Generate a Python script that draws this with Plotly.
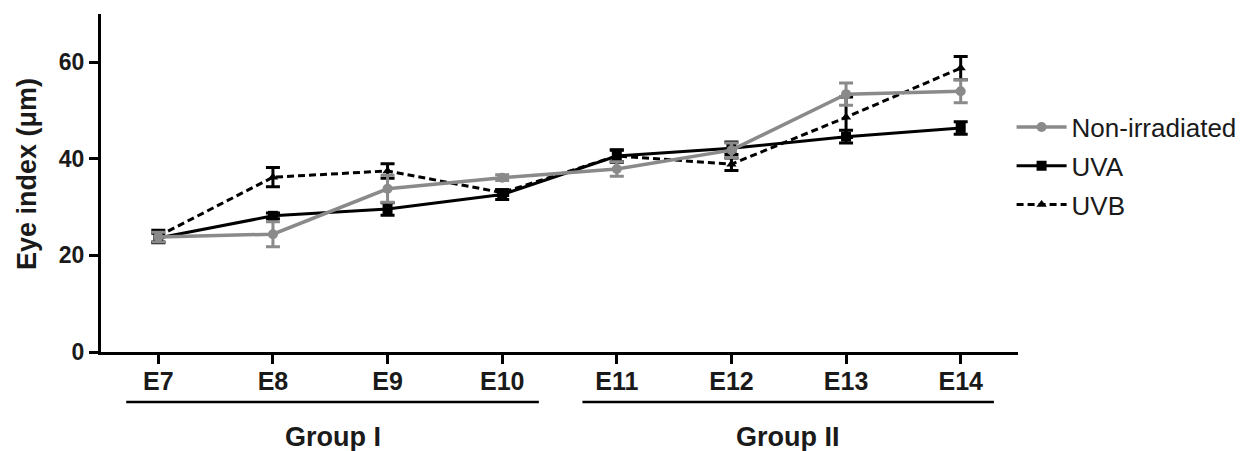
import plotly.graph_objects as go

days = ["E7", "E8", "E9", "E10", "E11", "E12", "E13", "E14"]
non_irr = [23.8, 24.4, 33.8, 36.1, 37.9, 41.8, 53.4, 54.0]
non_irr_err = [1.0, 2.6, 2.8, 0.6, 1.5, 1.5, 2.3, 2.4]
uva = [23.6, 28.2, 29.6, 32.6, 40.6, 42.2, 44.6, 46.4]
uva_err = [1.0, 0.6, 1.3, 1.0, 1.3, 1.3, 1.3, 1.3]
uvb = [24.0, 36.2, 37.5, 33.0, 40.6, 38.9, 48.6, 58.8]
uvb_err = [1.2, 2.0, 1.5, 0.6, 1.2, 1.3, 4.2, 2.4]
groups = ["Group I", "Group II"]
group_span = [(-0.28, 3.32), (3.70, 7.29)]

FONT = "Arial, Liberation Sans, sans-serif"
GRAY = "#8a8a8a"
x = list(range(len(days)))

fig = go.Figure()
fig.add_trace(go.Scatter(
    x=x, y=uvb, name="UVB", mode="lines+markers",
    line=dict(color="black", width=3, dash="7px,4px"),
    marker=dict(symbol="triangle-up", size=9, color="black"),
    error_y=dict(type="data", array=uvb_err, color="black", thickness=3, width=7),
    legendrank=3, legendgroup="c"))
fig.add_trace(go.Scatter(
    x=x, y=uva, name="UVA", mode="lines+markers",
    line=dict(color="black", width=3),
    marker=dict(symbol="square", size=10, color="black"),
    error_y=dict(type="data", array=uva_err, color="black", thickness=3, width=7),
    legendrank=2, legendgroup="b"))
fig.add_trace(go.Scatter(
    x=x, y=non_irr, name="Non-irradiated", mode="lines+markers",
    line=dict(color=GRAY, width=3.5),
    marker=dict(symbol="circle", size=10, color=GRAY),
    error_y=dict(type="data", array=non_irr_err, color=GRAY, thickness=3, width=7),
    legendrank=1, legendgroup="a"))

for (x0, x1), g in zip(group_span, groups):
    fig.add_shape(type="line", xref="x", yref="paper", x0=x0, x1=x1,
                  y0=-0.148, y1=-0.148, line=dict(color="black", width=2.5))
    fig.add_annotation(x=(x0 + x1) / 2, y=-0.251, xref="x", yref="paper",
                       text="<b>%s</b>" % g, showarrow=False,
                       font=dict(size=27, color="#1a1a1a", family=FONT),
                       yanchor="middle")

fig.update_layout(
    width=1248, height=443,
    margin=dict(l=93, r=238, t=6, b=99),
    plot_bgcolor="white", paper_bgcolor="white",
    font=dict(family=FONT, color="#1a1a1a"),
    showlegend=True,
    legend=dict(x=0.993, y=0.735, xanchor="left", yanchor="top",
                font=dict(size=26, family=FONT, color="#1a1a1a"),
                traceorder="grouped", tracegroupgap=2, itemwidth=50,
                bgcolor="rgba(0,0,0,0)"),
    xaxis=dict(
        range=[-0.5, 7.5], tickmode="array", tickvals=x,
        ticktext=["<b>%s</b>" % d for d in days],
        showline=True, linecolor="black", linewidth=3,
        ticks="outside", ticklen=9, tickwidth=2.5, tickcolor="black",
        ticklabelstandoff=-4,
        showgrid=False, zeroline=False,
        tickfont=dict(size=25, family=FONT, color="#1a1a1a")),
    yaxis=dict(
        range=[0, 70], tickvals=[0, 20, 40, 60],
        ticktext=["<b>0</b>", "<b>20</b>", "<b>40</b>", "<b>60</b>"],
        showline=True, linecolor="black", linewidth=3,
        ticks="outside", ticklen=9, tickwidth=2.5, tickcolor="black",
        showgrid=False, zeroline=False,
        tickfont=dict(size=23, family=FONT, color="#1a1a1a")),
)
# y title placed at its pixel position (page x=27, y=174), converted to paper coords
fig.add_annotation(x=(27 - 8 - 93) / 917, y=(344 - (174 - 8)) / 338,
                   xref="paper", yref="paper",
                   text="<b>Eye index (μm)</b>", showarrow=False, textangle=-90,
                   font=dict(size=27, family=FONT, color="#1a1a1a"),
                   xanchor="center", yanchor="middle")

fig.write_html("out.html")
